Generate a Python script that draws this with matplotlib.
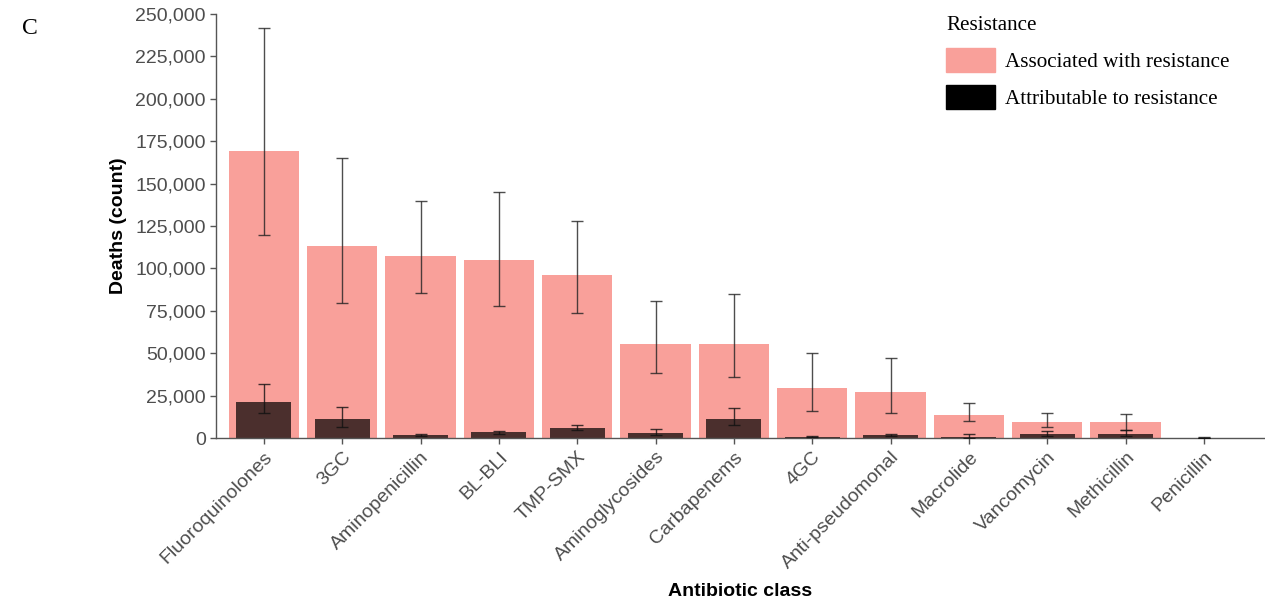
import matplotlib.pyplot as plt
from matplotlib.patches import Patch
from matplotlib.ticker import FuncFormatter
import numpy as np

classes = ["Fluoroquinolones", "3GC", "Aminopenicillin", "BL-BLI", "TMP-SMX",
           "Aminoglycosides", "Carbapenems", "4GC", "Anti-pseudomonal",
           "Macrolide", "Vancomycin", "Methicillin", "Penicillin"]

# deaths associated with resistance
assoc = [169000, 113000, 107500, 105000, 96000, 55500, 55500, 29500, 27000, 13800, 9400, 9400, 150]
assoc_lo = [119700, 79600, 85500, 77800, 73700, 38500, 35800, 15900, 14900, 10200, 6300, 4700, 0]
assoc_hi = [241500, 165000, 140000, 145000, 128000, 81000, 85000, 50300, 47300, 20400, 14700, 14200, 500]

# deaths attributable to resistance
attr = [21000, 11200, 1800, 3500, 5900, 3100, 11200, 800, 1900, 500, 2500, 2500, 50]
attr_lo = [14600, 6500, 1000, 2400, 4700, 1800, 7700, 500, 1200, 200, 1200, 1000, 0]
attr_hi = [32000, 18300, 2400, 4400, 7800, 5100, 17500, 1200, 2600, 2200, 4100, 5000, 200]

pink = "#F9A09A"
dark = "#4B2F2D"
grey = "#4d4d4d"

plt.rcParams['font.family'] = ['Liberation Sans', 'DejaVu Sans']

fig = plt.figure(figsize=(12.65, 6.02), dpi=100)
ax = fig.add_axes([0.1708, 0.2724, 0.8292, 0.7043])

x = np.arange(len(classes))
a = np.array(assoc)
b = np.array(attr)
ax.bar(x, a, width=0.9, color=pink, zorder=1)
ax.bar(x, b, width=0.7, color=dark, zorder=2)
ax.errorbar(x, a, yerr=[a - np.array(assoc_lo), np.array(assoc_hi) - a], fmt='none',
            ecolor='#222222', elinewidth=1.0, capsize=4, capthick=1.0, alpha=0.8, zorder=3)
ax.errorbar(x, b, yerr=[b - np.array(attr_lo), np.array(attr_hi) - b], fmt='none',
            ecolor='#111111', elinewidth=1.0, capsize=4, capthick=1.0, alpha=0.8, zorder=3)

ax.set_xlim(-0.61, 12.78)
ax.set_ylim(0, 250000)
ax.set_yticks(np.arange(0, 250001, 25000))
ax.yaxis.set_major_formatter(FuncFormatter(lambda v, p: f"{int(v):,}"))
ax.set_xticks(x)
ax.set_xticklabels(classes, rotation=45, ha='right', rotation_mode='anchor')

for s in ['top', 'right']:
    ax.spines[s].set_visible(False)
for s in ['left', 'bottom']:
    ax.spines[s].set_color('#555555')
    ax.spines[s].set_linewidth(1.0)
ax.tick_params(axis='both', colors='#555555', labelcolor=grey, labelsize=14, length=4, width=1)

ax.set_ylabel("Deaths (count)", fontsize=14, fontweight='bold', labelpad=6)
ax.set_xlabel("Antibiotic class", fontsize=14, fontweight='bold', labelpad=8)

handles = [Patch(color=pink), Patch(color="black")]
leg = fig.legend(handles, ["Associated with resistance", "Attributable to resistance"],
                 title="Resistance", loc='upper left', bbox_to_anchor=(0.733, 1.005),
                 frameon=False, prop={'family': 'Liberation Serif', 'size': 15.2},
                 handlelength=2.3, handleheight=1.35, handletextpad=0.5, labelspacing=0.62)
leg.get_title().set_fontfamily('Liberation Serif')
leg.get_title().set_fontsize(15.2)
leg._legend_box.align = "left"

fig.text(0.017, 0.952, "C", fontsize=17, family='Liberation Serif', va='center')

fig.savefig("out.png", dpi=100)
